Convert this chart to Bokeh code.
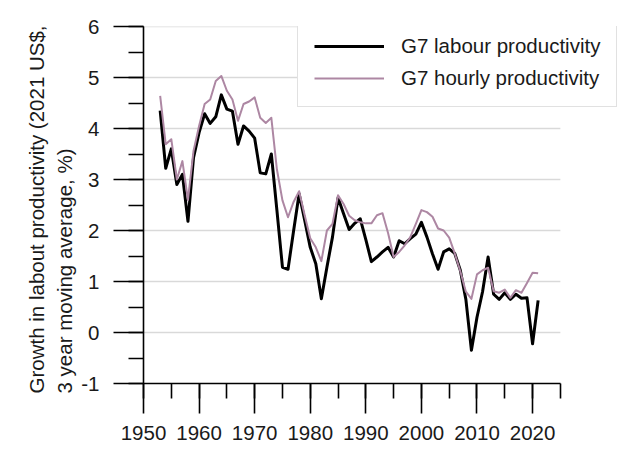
from bokeh.plotting import figure
from bokeh.models import (Range1d, SingleIntervalTicker, Legend, LegendItem, Title)
from bokeh.embed import file_html
from bokeh.resources import INLINE

years = list(range(1953, 2022))

labour = [4.35, 3.22, 3.60, 2.90, 3.10, 2.18, 3.43, 3.92, 4.29, 4.10,
          4.23, 4.66, 4.38, 4.34, 3.69, 4.05, 3.95, 3.81, 3.13, 3.11,
          3.50, 2.40, 1.28, 1.24, 1.99, 2.72, 2.20, 1.67, 1.35, 0.66,
          1.28, 1.87, 2.64, 2.33, 2.02, 2.14, 2.23, 1.82, 1.39, 1.48,
          1.58, 1.67, 1.48, 1.80, 1.74, 1.84, 1.93, 2.16, 1.87, 1.54,
          1.24, 1.58, 1.64, 1.55, 1.22, 0.65, -0.35, 0.30, 0.80, 1.48,
          0.75, 0.65, 0.78, 0.65, 0.75, 0.67, 0.68, -0.22, 0.63]

hourly = [4.64, 3.69, 3.79, 3.00, 3.36, 2.60, 3.56, 4.05, 4.48, 4.57,
          4.93, 5.03, 4.74, 4.57, 4.15, 4.48, 4.53, 4.61, 4.21, 4.11,
          4.21, 3.20, 2.59, 2.26, 2.56, 2.77, 2.30, 1.85, 1.67, 1.40,
          2.00, 2.13, 2.69, 2.52, 2.29, 2.20, 2.16, 2.14, 2.14, 2.30,
          2.34, 1.95, 1.48, 1.58, 1.71, 1.87, 2.13, 2.40, 2.36, 2.27,
          2.04, 2.00, 1.86, 1.55, 1.20, 0.80, 0.66, 1.14, 1.22, 1.27,
          0.81, 0.78, 0.84, 0.68, 0.83, 0.78, 0.97, 1.17, 1.16]

series_labels = ["G7 labour productivity", "G7 hourly productivity"]
ylabel_lines = ["Growth in labout productivity (2021 US$,",
                "3 year moving average, %)"]
x_axis_bounds = (1950, 2025)
grid_levels = [0, 1, 2, 3, 4, 5, 6]

FONT = "Liberation Sans"
FS = "20.5px"
MAUVE = "#ad87a3"
TXT = "#1a1a1a"

p = figure(width=640, height=466, output_backend="svg", toolbar_location=None,
           x_range=Range1d(1950, 2036), y_range=Range1d(-1, 6),
           min_border_left=143, min_border_right=19, min_border_top=26,
           min_border_bottom=83)
p.outline_line_color = None
p.background_fill_color = "white"
p.border_fill_color = "white"

p.xaxis.ticker = SingleIntervalTicker(interval=10, num_minor_ticks=2)
p.yaxis.ticker = SingleIntervalTicker(interval=1, num_minor_ticks=2)
p.xaxis.bounds = x_axis_bounds
for ax in (p.xaxis, p.yaxis):
    ax.axis_line_color = "black"
    ax.axis_line_width = 1.6
    ax.major_tick_line_color = "black"
    ax.major_tick_line_width = 1.6
    ax.minor_tick_line_color = "black"
    ax.minor_tick_line_width = 1.6
    ax.major_tick_in = 0
    ax.major_tick_out = 30
    ax.minor_tick_in = 0
    ax.minor_tick_out = 15
    ax.major_label_text_font = FONT
    ax.major_label_text_font_size = FS
    ax.major_label_text_color = TXT
p.xaxis.major_label_standoff = 12
p.yaxis.major_label_standoff = 14
p.yaxis.major_label_overrides = {-1: "-1"}

p.xgrid.grid_line_color = None
p.ygrid.grid_line_color = None

# horizontal grid lines, limited to the axis extent
p.segment(x0=[x_axis_bounds[0]] * len(grid_levels),
          x1=[x_axis_bounds[1]] * len(grid_levels),
          y0=grid_levels, y1=grid_levels,
          line_color="#d9d9d9", line_width=1.5)

r1 = p.line(years, labour, line_color="black", line_width=3, line_join="round")
r2 = p.line(years, hourly, line_color=MAUVE, line_width=2, line_join="round")

legend = Legend(items=[LegendItem(label=series_labels[0], renderers=[r1]),
                       LegendItem(label=series_labels[1], renderers=[r2])],
                location=(154, 276))
legend.label_text_font = FONT
legend.label_text_font_size = FS
legend.label_text_color = TXT
legend.glyph_width = 70
legend.glyph_height = 24
legend.label_height = 24
legend.label_standoff = 17
legend.padding = 16
legend.spacing = 8
legend.margin = 0
legend.border_line_color = "#c4c4c4"
legend.border_line_width = 1.5
legend.background_fill_color = "white"
legend.background_fill_alpha = 1.0
p.add_layout(legend, "center")

# two-line y axis label, both lines starting at the same point
for txt, so in zip(reversed(ylabel_lines), [6, 0]):
    t = Title(text=txt, align="left", offset=-10, standoff=so,
              text_font=FONT, text_font_size=FS, text_font_style="normal",
              text_color=TXT)
    p.add_layout(t, "left")

open("out.html", "w").write(file_html(p, INLINE))
